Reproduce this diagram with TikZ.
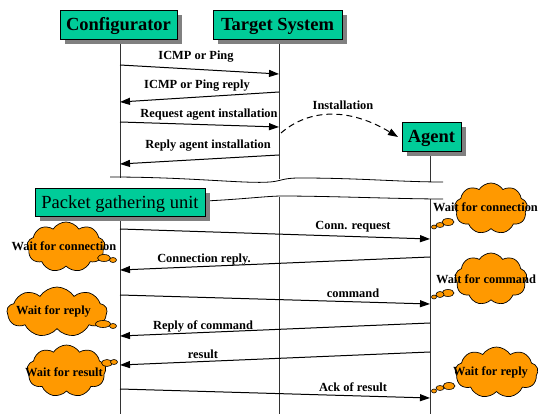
\documentclass[tikz,border=0pt]{standalone}
\usepackage{fontspec}
\setmainfont{Liberation Serif}
\usetikzlibrary{arrows.meta,shapes.symbols,shapes.geometric,shadows}
\definecolor{boxteal}{RGB}{0,204,153}
\definecolor{cloudorange}{RGB}{255,153,0}
\definecolor{shadowgray}{RGB}{128,128,128}
\begin{document}
\begin{tikzpicture}[x=1pt,y=-1pt,
  actor/.style={draw=black,line width=0.7pt,fill=boxteal,inner sep=0pt,
    text height=13pt,text depth=0pt,
    drop shadow={shadow xshift=5pt,shadow yshift=-5pt,fill=shadowgray,opacity=1},
    font=\fontsize{18.5}{20}\selectfont\bfseries},
  lifeline/.style={line width=0.8pt,draw=black!80},
  msg/.style={line width=1pt,-{Triangle[length=10pt,width=7pt]}},
  lbl/.style={font=\fontsize{12.4}{14}\selectfont\bfseries,inner sep=0pt},
  cloudbody/.style={cloud,cloud puffs=9,cloud puff arc=115,cloud ignores aspect,draw=black,line width=0.7pt,fill=cloudorange,inner sep=0pt},
  bubble/.style={ellipse,draw=black,line width=0.6pt,fill=cloudorange,inner sep=0pt},
  wave/.style={line width=0.8pt}
]
\useasboundingbox (0,0) rectangle (539,414);

% coordinates on lifelines
\coordinate (ctop) at (120,39);  \coordinate (cbrk) at (120,178);
\coordinate (ttop) at (279,39);  \coordinate (tbrk) at (279,179);
\coordinate (atop) at (430,151); \coordinate (abrk) at (430,182);
\coordinate (cres) at (120,216); \coordinate (cbot) at (120,414);
\coordinate (tres) at (279,197); \coordinate (tbot) at (279,414);
\coordinate (ares) at (430,199); \coordinate (abot) at (430,414);

% lifelines
\draw[lifeline] (ctop) -- (cbrk);
\draw[lifeline] (ttop) -- (tbrk);
\draw[lifeline] (atop) -- (abrk);
\draw[lifeline] (cres) -- (cbot);
\draw[lifeline] (tres) -- (tbot);
\draw[lifeline] (ares) -- (abot);

% break waves
\coordinate (w1a) at (110,177); \coordinate (w1b) at (443,182);
\coordinate (w2a) at (110,203); \coordinate (w2b) at (443,199);
\draw[wave] (w1a) .. controls (190,177) and (245,184) .. (270,182)
  .. controls (282,181) and (282,178) .. (300,178)
  .. controls (360,178) and (400,182) .. (w1b);
\draw[wave] (w2a) .. controls (220,203) and (250,197) .. (280,196)
  .. controls (330,196) and (400,199) .. (w2b);

% actor boxes
\node[actor,minimum width=117pt,minimum height=29pt] (conf) at (118.5,24.5) {Configurator};
\node[actor,minimum width=129pt,minimum height=29pt] (targ) at (277.5,24.5) {Target System};
\node[actor,minimum width=59pt,minimum height=29pt] (agent) at (431.5,136.5) {Agent};
\node[actor,minimum width=170pt,minimum height=28pt,font=\fontsize{18.5}{20}\selectfont] (pgu) at (120,202) {Packet gathering unit};

% message endpoints
\coordinate (m1a) at (120,65);  \coordinate (m1b) at (279,74);
\coordinate (m2a) at (279,92);  \coordinate (m2b) at (120,102);
\coordinate (m3a) at (120,122); \coordinate (m3b) at (279,127);
\coordinate (m4a) at (279,155); \coordinate (m4b) at (120,164);
\coordinate (m5a) at (120,229); \coordinate (m5b) at (430,239);
\coordinate (m6a) at (430,257); \coordinate (m6b) at (120,270);
\coordinate (m7a) at (120,295); \coordinate (m7b) at (430,304);
\coordinate (m8a) at (430,323); \coordinate (m8b) at (120,336);
\coordinate (m9a) at (430,352); \coordinate (m9b) at (120,365);
\coordinate (m10a) at (120,389); \coordinate (m10b) at (430,398);
\coordinate (insa) at (281,133); \coordinate (insb) at (398,137);

\draw[msg] (m1a) -- (m1b);
\draw[msg] (m2a) -- (m2b);
\draw[msg] (m3a) -- (m3b);
\draw[msg] (m4a) -- (m4b);
\draw[msg] (m5a) -- (m5b);
\draw[msg] (m6a) -- (m6b);
\draw[msg] (m7a) -- (m7b);
\draw[msg] (m8a) -- (m8b);
\draw[msg] (m9a) -- (m9b);
\draw[msg] (m10a) -- (m10b);
\draw[msg,dash pattern=on 6pt off 4pt] (insa) .. controls (310,108) and (350,108) .. (insb);

% labels
\node[lbl] (l1) at (196,57) {ICMP or Ping};
\node[lbl] (l2) at (197,86) {ICMP or Ping reply};
\node[lbl] (l3) at (209,115) {Request agent installation};
\node[lbl] (l4) at (208,146) {Reply agent installation};
\node[lbl] (l5) at (343,105) {Installation};
\node[lbl] (l6) at (353,227) {Conn. request};
\node[lbl] (l7) at (204,260) {Connection reply.};
\node[lbl] (l8) at (353,293) {command};
\node[lbl] (l9) at (203,326) {Reply of command};
\node[lbl] (l10) at (203,354) {result};
\node[lbl] (l11) at (353,387) {Ack of result};

% left clouds
\node[cloudbody,minimum width=78pt,minimum height=50pt] (cl1) at (66,247) {};
\node[bubble,minimum width=13pt,minimum height=7pt] (b11) at (104,258) {};
\node[bubble,minimum width=7pt,minimum height=5pt] (b12) at (113,260) {};
\node[lbl] (t11) at (64,246) {Wait for connection};

\node[cloudbody,minimum width=100pt,minimum height=50pt] (cl2) at (57,312) {};
\node[bubble,minimum width=15pt,minimum height=7pt] (b21) at (103,324) {};
\node[bubble,minimum width=7pt,minimum height=5pt] (b22) at (113,326) {};
\node[lbl] (t21) at (53.5,311) {Wait for reply};

\node[cloudbody,minimum width=79pt,minimum height=52pt] (cl3) at (66.5,371) {};
\node[bubble,minimum width=11pt,minimum height=7pt] (b31) at (107,363) {};
\node[bubble,minimum width=7pt,minimum height=5pt] (b32) at (114,362) {};
\node[lbl] (t31) at (64,372) {Wait for result};

% right clouds
\node[cloudbody,minimum width=73pt,minimum height=51pt] (cr1) at (491,208.5) {};
\node[bubble,minimum width=12pt,minimum height=7pt] (r11) at (448,222) {};
\node[bubble,minimum width=8pt,minimum height=5pt] (r12) at (440,225) {};
\node[bubble,minimum width=5pt,minimum height=4pt] (r13) at (434,227) {};
\node[lbl] (rt1) at (485.5,207) {Wait for connection};

\node[cloudbody,minimum width=72pt,minimum height=52pt] (cr2) at (491,279) {};
\node[bubble,minimum width=12pt,minimum height=7pt] (r21) at (448,293) {};
\node[bubble,minimum width=8pt,minimum height=6pt] (r22) at (440,294.5) {};
\node[bubble,minimum width=5pt,minimum height=4pt] (r23) at (434,297) {};
\node[lbl] (rt2) at (486,279) {Wait for command};

\node[cloudbody,minimum width=83pt,minimum height=51pt] (cr3) at (496.5,372.5) {};
\node[bubble,minimum width=12pt,minimum height=7pt] (r31) at (449,386) {};
\node[bubble,minimum width=8pt,minimum height=5pt] (r32) at (440,388) {};
\node[bubble,minimum width=5pt,minimum height=4pt] (r33) at (434,391) {};
\node[lbl] (rt3) at (490.5,372) {Wait for reply};
\end{tikzpicture}
\end{document}
